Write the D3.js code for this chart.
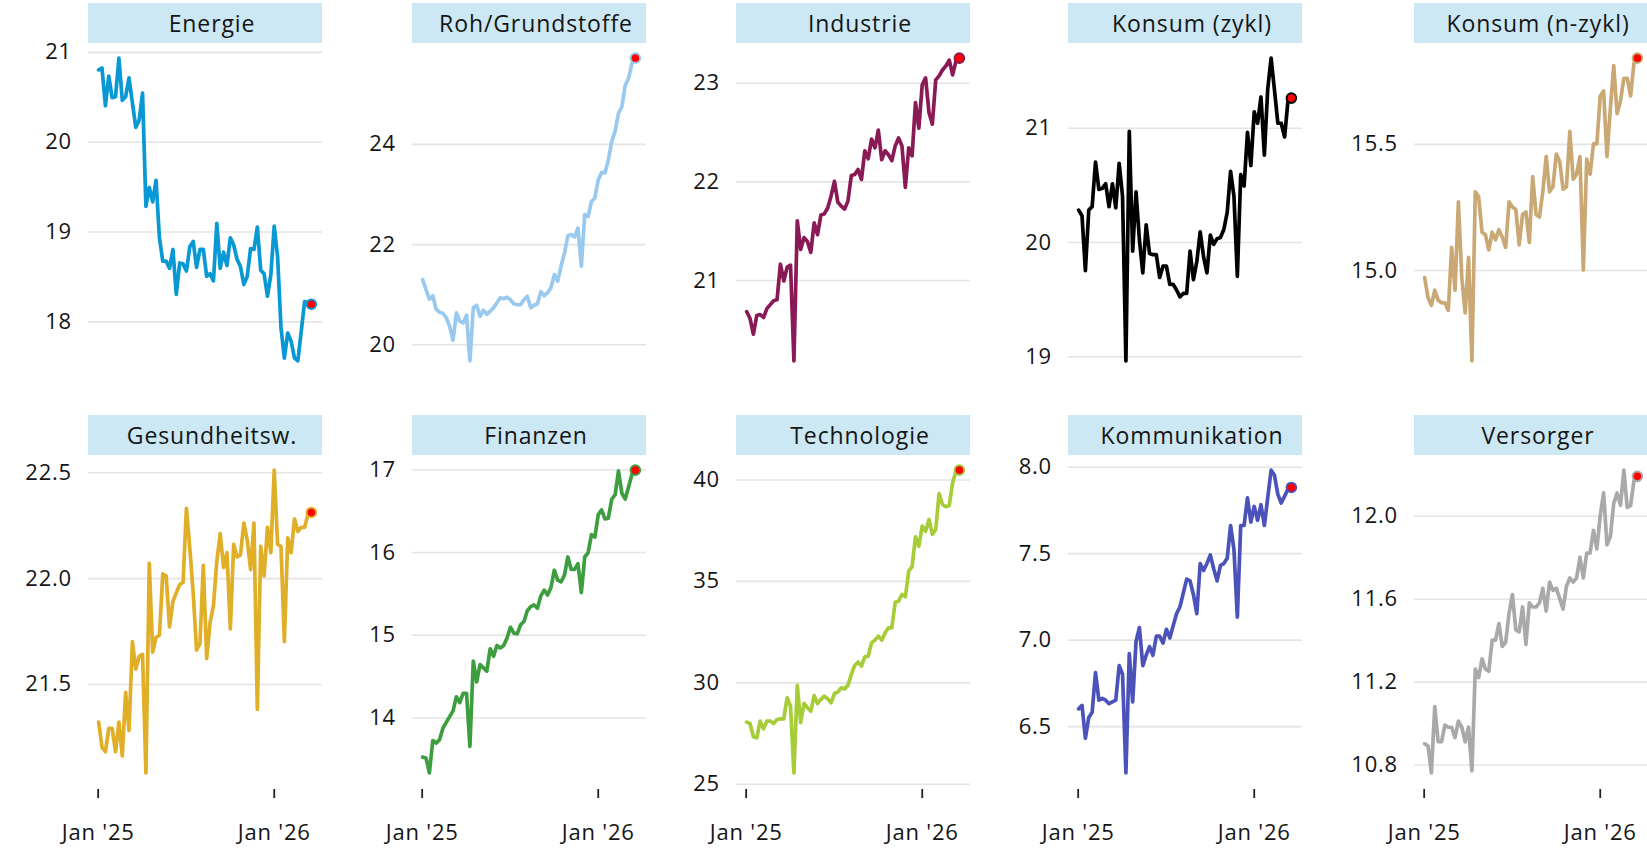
<!DOCTYPE html>
<html>
<head>
<meta charset="utf-8">
<script src="https://cdn.jsdelivr.net/npm/d3@7"></script>
<style>
body{margin:0;background:#fff;}
svg text{font-family:"Open Sans",sans-serif;fill:#151515;}
</style>
</head>
<body>
<div id="main"></div>
<script>
// sectors, in facet order (row by row)
var sectors = ["Energie","Roh/Grundstoffe","Industrie","Konsum (zykl)","Konsum (n-zykl)",
	"Gesundheitsw.","Finanzen","Technologie","Kommunikation","Versorger"];
var sector_colors = ["#0898d4","#99c9ee","#8a1a55","#000000","#c9a874",
	"#e0ae27","#3c9e3f","#a6cc37","#4b52ba","#a9a9a9"];

// weekly observations, first one on Fri 3 Jan 2025
var first_date = new Date(2025,0,3);

var energie = [20.80,20.82,20.40,20.73,20.49,20.50,20.93,20.46,20.50,20.71,20.43,20.16,20.24,20.54,19.28,19.49,19.33,19.57,18.93,18.67,18.67,18.59,18.80,18.30,18.65,18.64,18.56,18.83,18.89,18.60,18.80,18.80,18.50,18.53,18.45,19.09,18.59,18.77,18.62,18.93,18.85,18.69,18.61,18.41,18.50,18.81,18.80,19.05,18.57,18.53,18.28,18.52,19.06,18.72,17.93,17.59,17.87,17.78,17.59,17.56,17.89,18.22,18.21,18.19];
var grundstoffe = [21.29,21.09,20.90,20.97,20.70,20.64,20.62,20.53,20.36,20.08,20.63,20.46,20.43,20.58,19.67,20.73,20.78,20.56,20.68,20.60,20.66,20.73,20.83,20.93,20.91,20.94,20.89,20.81,20.79,20.79,20.89,20.96,20.73,20.78,20.81,21.05,20.97,21.03,21.13,21.39,21.26,21.56,21.82,22.16,22.19,22.14,22.32,21.56,22.59,22.55,22.85,22.92,23.28,23.43,23.42,23.68,24.05,24.25,24.61,24.74,25.17,25.31,25.61,25.71];
var industrie = [20.68,20.61,20.45,20.64,20.65,20.62,20.71,20.75,20.79,20.80,21.16,20.99,21.13,21.15,20.18,21.60,21.31,21.43,21.39,21.28,21.58,21.46,21.66,21.67,21.73,21.85,22.00,21.79,21.75,21.72,21.80,22.06,22.07,22.12,22.02,22.31,22.23,22.43,22.34,22.52,22.22,22.31,22.27,22.21,22.36,22.44,22.36,21.94,22.34,22.26,22.80,22.54,22.98,23.05,22.70,22.58,23.03,23.07,23.13,23.17,23.23,23.08,23.22,23.25];
var konsum_zykl = [20.28,20.23,19.75,20.28,20.31,20.70,20.46,20.47,20.51,20.31,20.51,20.30,20.69,20.40,18.96,20.97,19.92,20.44,20.02,19.73,20.15,19.90,19.89,19.89,19.69,19.79,19.79,19.63,19.63,19.58,19.52,19.55,19.55,19.92,19.67,19.83,20.09,19.87,19.73,20.06,19.98,20.03,20.04,20.11,20.26,20.62,20.40,19.70,20.59,20.49,20.96,20.67,21.14,21.04,21.27,20.76,21.34,21.61,21.33,21.04,21.04,20.92,21.24,21.26];
var konsum_nzykl = [14.97,14.89,14.86,14.92,14.88,14.87,14.87,14.84,15.09,14.92,15.27,14.97,14.83,15.05,14.64,15.31,15.29,15.15,15.14,15.08,15.15,15.12,15.16,15.13,15.09,15.27,15.25,15.24,15.10,15.22,15.23,15.11,15.37,15.22,15.21,15.31,15.45,15.31,15.33,15.46,15.43,15.32,15.33,15.55,15.36,15.38,15.45,15.00,15.44,15.38,15.50,15.50,15.69,15.71,15.45,15.64,15.81,15.62,15.67,15.76,15.76,15.69,15.82,15.84];
var gesundheit = [21.32,21.20,21.18,21.29,21.29,21.18,21.32,21.16,21.46,21.28,21.70,21.57,21.63,21.64,21.08,22.07,21.65,21.72,21.73,22.02,22.01,21.77,21.89,21.93,21.97,21.98,22.33,22.14,21.93,21.66,21.69,22.06,21.62,21.79,21.87,22.08,22.21,22.05,22.12,21.76,22.16,22.10,22.11,22.26,22.18,22.04,22.26,21.38,22.15,22.01,22.24,22.12,22.51,22.16,22.15,21.70,22.19,22.12,22.28,22.22,22.24,22.24,22.30,22.31];
var finanzen = [13.52,13.51,13.33,13.72,13.69,13.73,13.87,13.94,14.01,14.08,14.25,14.18,14.29,14.29,13.65,14.68,14.43,14.64,14.60,14.56,14.83,14.74,14.87,14.84,14.87,14.96,15.09,15.02,15.01,15.12,15.16,15.29,15.34,15.36,15.32,15.47,15.54,15.48,15.57,15.78,15.66,15.64,15.72,15.94,15.79,15.79,15.86,15.51,15.94,15.99,16.21,16.18,16.45,16.51,16.40,16.41,16.64,16.69,16.98,16.71,16.64,16.79,16.94,16.99];
var technologie = [28.04,27.97,27.32,27.27,28.09,27.71,28.09,28.09,27.97,28.17,28.20,28.20,29.24,28.83,25.54,29.85,28.01,28.96,28.75,28.58,29.35,28.96,29.16,29.32,29.19,28.99,29.45,29.52,29.73,29.68,29.85,30.39,30.83,31.00,30.80,31.26,31.29,31.95,32.08,32.28,32.08,32.44,32.69,32.69,33.95,34.00,34.33,34.22,35.48,35.70,37.17,36.71,37.70,37.45,38.03,37.29,37.54,39.31,38.77,38.65,38.72,39.84,40.41,40.46];
var kommunikation = [6.60,6.62,6.43,6.55,6.58,6.81,6.65,6.66,6.65,6.63,6.64,6.65,6.85,6.80,6.23,6.92,6.64,6.99,7.07,6.85,6.91,6.96,6.91,7.02,7.02,6.98,7.06,7.01,7.08,7.15,7.19,7.27,7.35,7.34,7.26,7.15,7.44,7.40,7.44,7.49,7.41,7.34,7.43,7.44,7.47,7.66,7.52,7.13,7.66,7.66,7.82,7.68,7.77,7.69,7.78,7.66,7.82,7.98,7.95,7.84,7.79,7.83,7.87,7.88];
var versorger = [10.90,10.89,10.76,11.08,10.91,10.91,10.99,10.98,10.98,10.93,11.01,10.98,10.91,10.98,10.77,11.26,11.22,11.31,11.26,11.25,11.40,11.40,11.48,11.37,11.39,11.53,11.62,11.45,11.44,11.56,11.38,11.58,11.56,11.56,11.58,11.65,11.54,11.68,11.64,11.65,11.60,11.55,11.66,11.70,11.68,11.70,11.80,11.70,11.82,11.82,11.93,11.84,12.00,12.11,11.86,11.90,12.06,12.11,12.05,12.22,12.04,12.05,12.17,12.19];

var series = [energie,grundstoffe,industrie,konsum_zykl,konsum_nzykl,
	gesundheit,finanzen,technologie,kommunikation,versorger];

// y axis breaks per panel and number of decimals
var y_ticks = [[18,19,20,21],[20,22,24],[21,22,23],[19,20,21],[15.0,15.5],
	[21.5,22.0,22.5],[14,15,16,17],[25,30,35,40],[6.5,7.0,7.5,8.0],[10.8,11.2,11.6,12.0]];
var y_decimals = [0,0,0,0,1,1,0,0,1,1];

var x_ticks = [new Date(2025,0,1), new Date(2026,0,1)];
var x_tick_labels = ["Jan '25","Jan '26"];

// layout
var width = 1647, height = 850;
var col_left = [88,412,736,1068,1414];
var row_top = [3,415];
var panel_w = 234, strip_h = 40, panel_h = 333;

function expand(ext, mult){
	var pad = (ext[1]-ext[0])*mult;
	return [ext[0]-pad, ext[1]+pad];
}

function draw_panel(svg, i){
	var values = series[i];
	var dates = values.map(function(d,k){ return d3.timeWeek.offset(first_date,k); });
	var data = values.map(function(d,k){ return {date:dates[k], value:d}; });
	var col = i % 5, row = Math.floor(i/5);
	var x0 = col_left[col], y0 = row_top[row] + strip_h;

	var x = d3.scaleTime()
		.domain(expand(d3.extent(dates).map(Number),0.05).map(function(t){ return new Date(t); }))
		.range([0,panel_w]);
	var y = d3.scaleLinear()
		.domain(expand(d3.extent(values),0.05))
		.range([panel_h,0]);

	var g = svg.append("g").attr("transform","translate("+x0+","+y0+")");

	// strip
	var strip = svg.append("g").attr("transform","translate("+x0+","+row_top[row]+")");
	strip.append("rect").attr("width",panel_w).attr("height",strip_h).attr("fill","#cce8f4");
	strip.append("text").attr("x",panel_w/2+7).attr("y",strip_h/2+8.5)
		.attr("text-anchor","middle").style("font-size","23px").style("letter-spacing","0.9px")
		.text(sectors[i]);

	// y axis with grid lines
	var y_axis = g.append("g").attr("class","y axis")
		.call(d3.axisLeft(y).tickValues(y_ticks[i]).tickSize(-panel_w).tickPadding(16)
			.tickFormat(d3.format("."+y_decimals[i]+"f")));
	y_axis.select(".domain").remove();
	y_axis.selectAll("line").attr("stroke","#e4e4e4").attr("stroke-width",1.6);
	y_axis.selectAll("text").attr("fill","#151515").style("font-size","22px").style("letter-spacing","0.8px");

	// x axis only on the bottom row
	if (row==1){
		var x_axis = g.append("g").attr("transform","translate(0,"+(panel_h+1)+")")
			.call(d3.axisBottom(x).tickValues(x_ticks).tickSize(9).tickPadding(26)
				.tickFormat(function(d,k){ return x_tick_labels[k]; }));
		x_axis.select(".domain").remove();
		x_axis.selectAll("line").attr("stroke","#222").attr("stroke-width",1.8);
		x_axis.selectAll("text").attr("fill","#151515").style("font-size","22px").style("letter-spacing","0.8px");
	}

	var line = d3.line()
		.x(function(d){ return x(d.date); })
		.y(function(d){ return y(d.value); });

	g.append("path").datum(data)
		.attr("fill","none")
		.attr("stroke",sector_colors[i])
		.attr("stroke-width",3.7)
		.attr("stroke-linejoin","round")
		.attr("stroke-linecap","round")
		.attr("d",line);

	var last = data[data.length-1];
	g.append("circle")
		.attr("cx",x(last.date)).attr("cy",y(last.value)).attr("r",4.8)
		.attr("fill","#ff0000").attr("stroke",sector_colors[i]).attr("stroke-width",2);
}

var svg = d3.select("#main").append("svg")
	.attr("width",width).attr("height",height)
	.style("background","#fff");

for (var i=0;i<sectors.length;i++){
	draw_panel(svg,i);
}
</script>
</body>
</html>
